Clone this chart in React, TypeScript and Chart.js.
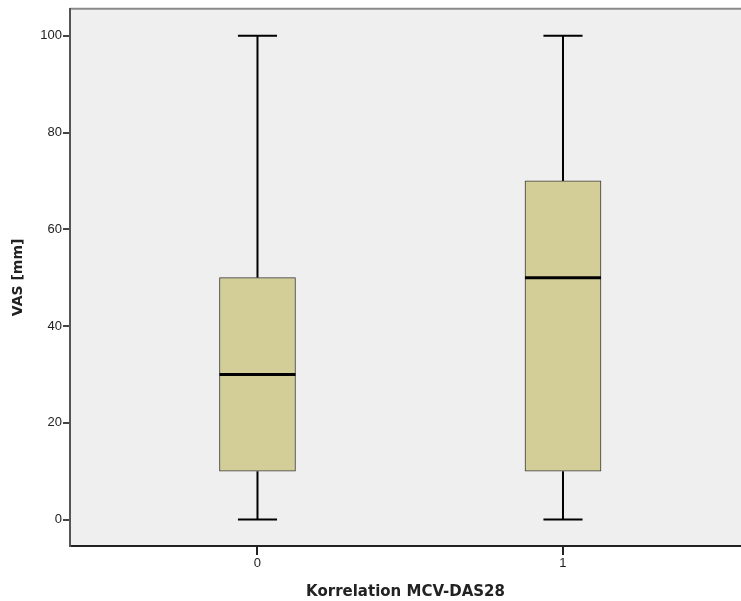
import React, { useEffect, useRef } from "react";
import { Chart, registerables } from "chart.js";

Chart.register(...registerables);

const categories = [0, 1];
const mins = [0, 0];
const q1s = [10, 10];
const medians = [30, 50];
const q3s = [50, 70];
const maxs = [100, 100];
const yTicks = [0, 20, 40, 60, 80, 100];

const boxPlugin = {
  id: "boxExtras",
  beforeDraw(chart: any) {
    const { ctx, chartArea } = chart;
    ctx.save();
    ctx.fillStyle = "#efefef";
    ctx.fillRect(chartArea.left, chartArea.top, chartArea.right - chartArea.left, chartArea.bottom - chartArea.top);
    ctx.strokeStyle = "#8a8a8a";
    ctx.lineWidth = 2;
    ctx.beginPath();
    ctx.moveTo(chartArea.left, chartArea.top);
    ctx.lineTo(chartArea.right, chartArea.top);
    ctx.stroke();
    ctx.restore();
  },
  beforeDatasetsDraw(chart: any) {
    const { ctx } = chart;
    const xs = chart.scales.x;
    const ys = chart.scales.y;
    ctx.save();
    ctx.strokeStyle = "#000";
    ctx.lineWidth = 2;
    categories.forEach((c, i) => {
      const x = xs.getPixelForValue(c);
      const capHalf = xs.getPixelForValue(c + 0.064) - x;
      ctx.beginPath();
      ctx.moveTo(x, ys.getPixelForValue(maxs[i]));
      ctx.lineTo(x, ys.getPixelForValue(q3s[i]));
      ctx.moveTo(x, ys.getPixelForValue(q1s[i]));
      ctx.lineTo(x, ys.getPixelForValue(mins[i]));
      ctx.moveTo(x - capHalf, ys.getPixelForValue(maxs[i]));
      ctx.lineTo(x + capHalf, ys.getPixelForValue(maxs[i]));
      ctx.moveTo(x - capHalf, ys.getPixelForValue(mins[i]));
      ctx.lineTo(x + capHalf, ys.getPixelForValue(mins[i]));
      ctx.stroke();
    });
    ctx.restore();
  },
  afterDatasetsDraw(chart: any) {
    const { ctx } = chart;
    const xs = chart.scales.x;
    const ys = chart.scales.y;
    ctx.save();
    ctx.strokeStyle = "#000";
    ctx.lineWidth = 3;
    categories.forEach((c, i) => {
      const x = xs.getPixelForValue(c);
      const half = xs.getPixelForValue(c + 0.1244) - x;
      const y = ys.getPixelForValue(medians[i]);
      ctx.beginPath();
      ctx.moveTo(x - half, y);
      ctx.lineTo(x + half, y);
      ctx.stroke();
    });
    ctx.restore();
  },
};

export default function App() {
  const ref = useRef<HTMLCanvasElement>(null);
  useEffect(() => {
    document.body.style.margin = "0";
    const chart = new Chart(ref.current!, {
      type: "bar",
      data: {
        datasets: [
          {
            data: categories.map((c, i) => ({ x: c, y: [q1s[i], q3s[i]] })) as any,
            backgroundColor: "#d3ce98",
            borderColor: "#3a3a3a",
            borderWidth: 1,
            borderSkipped: false,
            barThickness: 76,
          },
        ],
      },
      options: {
        responsive: false,
        animation: false,
        layout: { padding: { top: 8, left: 0, right: 0, bottom: 0 } },
        plugins: { legend: { display: false }, tooltip: { enabled: false } },
        scales: {
          x: {
            type: "linear",
            offset: false,
            min: -0.6137,
            max: 1.5827,
            afterBuildTicks: (s: any) => {
              s.ticks = categories.map((v) => ({ value: v }));
            },
            afterFit: (s: any) => {
              s.height = 55;
            },
            grid: { display: true, offset: false, drawOnChartArea: false, drawTicks: true, tickLength: 9, color: "#222", lineWidth: 2 },
            border: { display: true, color: "#222", width: 2 },
            ticks: { color: "#222", font: { family: "Liberation Sans, Arial", size: 13 }, padding: 1, callback: (v: any) => String(v) },
            title: {
              display: true,
              text: "Korrelation MCV-DAS28",
              color: "#222",
              font: { family: "DejaVu Sans", size: 15, weight: "bold" },
              padding: { top: 10, bottom: 0 },
            },
          },
          y: {
            type: "linear",
            min: -5.47,
            max: 105.57,
            afterBuildTicks: (s: any) => {
              s.ticks = yTicks.map((v) => ({ value: v }));
            },
            afterFit: (s: any) => {
              s.width = 70;
            },
            grid: { display: true, drawOnChartArea: false, drawTicks: true, tickLength: 7, color: "#444", lineWidth: 2 },
            border: { display: true, color: "#555", width: 2 },
            ticks: { color: "#222", font: { family: "Liberation Sans, Arial", size: 13 }, padding: 1, callback: (v: any) => String(v) },
            title: {
              display: true,
              text: "VAS [mm]",
              color: "#222",
              font: { family: "DejaVu Sans", size: 14, weight: "bold" },
              padding: { top: 10, bottom: 0 },
            },
          },
        },
      } as any,
      plugins: [boxPlugin],
    });
    return () => chart.destroy();
  }, []);
  return <canvas ref={ref} width={741} height={601} style={{ display: "block" }} />;
}
